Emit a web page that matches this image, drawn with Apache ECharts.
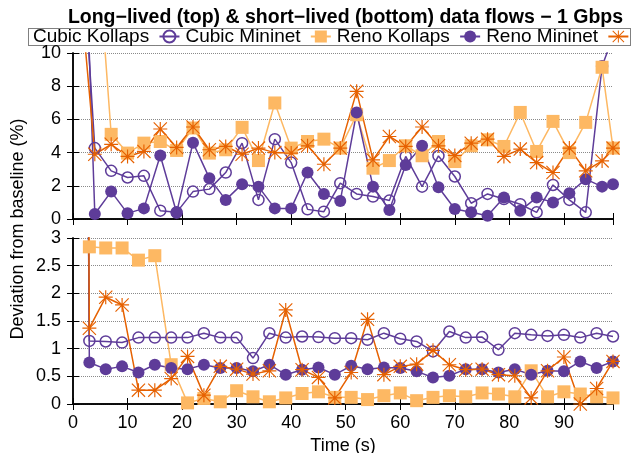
<!DOCTYPE html>
<html><head><meta charset="utf-8">
<script src="https://cdn.jsdelivr.net/npm/echarts@6/dist/echarts.min.js"></script>
<style>html,body{margin:0;padding:0;background:#fff}#c{width:631px;height:453px}</style>
</head><body><div id="c"></div>
<script>
// ---- data ----
const topTime = [1,4,7,10,13,16,19,22,25,28,31,34,37,40,43,46,49,52,55,58,61,64,67,70,73,76,79,82,85,88,91,94,97,99];
const bottomTime = [0,3,6,9,12,15,18,21,24,27,30,33,36,39,42,45,48,51,54,57,60,63,66,69,72,75,78,81,84,87,90,93,96,99];
const seriesNames = ['Cubic Kollaps','Cubic Mininet','Reno Kollaps','Reno Mininet'];

const topCubicKollaps = [20,4.27,2.9,2.5,2.6,0.5,0.4,1.65,1.8,2.8,4.57,1.15,4.81,3.4,0.58,0.44,2.16,1.51,1.35,1.11,3.77,1.95,3.8,2.56,0.95,1.51,1.2,0.89,0.4,2.05,1.15,0.4,9.2,11];
const topCubicMininet = [25,18.5,5.1,3.97,4.57,4.67,4.13,5.48,3.97,4.17,5.52,3.52,6.99,4.27,4.67,4.81,4.27,6.28,3.06,3.52,4.41,3.81,4.67,3.46,4.41,4.77,4.37,6.42,4.07,5.88,4.0,5.82,9.14,4.27];
const topRenoKollaps = [29,0.3,1.65,0.34,0.64,3.83,0.38,4.6,2.46,1.15,2.1,1.95,0.64,0.64,2.8,1.51,1.09,6.42,1.95,0.54,3.26,4.41,1.91,0.6,0.4,0.2,1.29,0.5,1.29,1.0,1.55,2.4,1.95,2.1];
const topRenoMininet = [15,3.9,4.5,3.77,4.07,5.42,4.31,5.54,4.17,4.37,3.9,4.27,4.0,3.97,4.41,3.3,4.27,7.69,3.56,4.97,4.37,5.54,4.41,3.83,4.57,4.81,3.77,4.21,3.4,2.8,4.27,2.9,3.5,4.27];

const bottomCubicKollaps = [40,1.14,1.13,1.11,1.2,1.2,1.2,1.2,1.28,1.2,1.2,0.83,1.28,1.2,1.22,1.21,1.19,1.19,1.16,1.28,1.18,1.13,0.95,1.31,1.2,1.21,0.98,1.28,1.25,1.23,1.25,1.2,1.28,1.22];
const bottomCubicMininet = [60,2.84,2.82,2.82,2.6,2.68,0.71,0.02,0.1,0.04,0.24,0.13,0.04,0.11,0.19,0.22,0.12,0.12,0.08,0.15,0.2,0.06,0.12,0.15,0.13,0.2,0.18,0.13,0.6,0.13,0.22,0.18,0.13,0.11];
const bottomRenoKollaps = [45,0.75,0.63,0.68,0.57,0.71,0.65,0.63,0.71,0.65,0.65,0.59,0.71,0.53,0.62,0.66,0.53,0.69,0.63,0.66,0.65,0.59,0.48,0.51,0.63,0.63,0.57,0.63,0.53,0.6,0.59,0.77,0.65,0.77];
const bottomRenoMininet = [50,1.37,1.93,1.79,0.25,0.25,0.46,0.86,0.16,0.68,0.63,0.54,0.6,1.7,0.62,0.48,0.11,0.57,1.53,0.53,0.68,0.72,0.97,0.71,0.62,0.63,0.53,0.51,0.11,0.6,0.85,0.0,0.28,0.77];

const xTickLabels = [0,10,20,30,40,50,60,70,80,90];
const topYTickLabels = [0,2,4,6,8,10];
const bottomYTickLabels = [0,0.5,1,1.5,2,2.5,3];

// ---- styling ----
const FONT = "'Liberation Sans', Arial, Helvetica, sans-serif";
const PURPLE = '#5e3c99', LORANGE = '#fdb863', DORANGE = '#e66101';
const STAR = 'path://M0 11H24V13H0Z M11 0H13V24H11Z M1.4 0L24 22.6L22.6 24L0 1.4Z M22.6 0L24 1.4L1.4 24L0 22.6Z';
const G = [{left:73, top:53, width:540, height:166}, {left:73, top:238, width:540, height:166}];

function pairs(xs, ys){ return xs.map((x,i)=>[x, ys[i]]); }

const styles = [
  {symbol:'circle', symbolSize:11, itemStyle:{color:'rgba(255,255,255,0)', borderColor:PURPLE, borderWidth:1.5}, lineStyle:{color:PURPLE, width:1.5}},
  {symbol:'rect', symbolSize:13, itemStyle:{color:LORANGE}, lineStyle:{color:LORANGE, width:1.5}},
  {symbol:'circle', symbolSize:12, itemStyle:{color:PURPLE}, lineStyle:{color:PURPLE, width:1.5}},
  {symbol:STAR, symbolSize:14, itemStyle:{color:DORANGE}, lineStyle:{color:DORANGE, width:1.5}}
];
const topData = [topCubicKollaps, topCubicMininet, topRenoKollaps, topRenoMininet];
const botData = [bottomCubicKollaps, bottomCubicMininet, bottomRenoKollaps, bottomRenoMininet];

const series = [];
[[topTime, topData, 0], [bottomTime, botData, 2]].forEach(([xs, data, ax]) => {
  data.forEach((ys, k) => {
    series.push(Object.assign({
      name: seriesNames[k], type:'line', xAxisIndex: ax, yAxisIndex: ax,
      data: pairs(xs, ys), clip: true, animation:false, showAllSymbol: true,
      emphasis:{disabled:true}
    }, styles[k]));
  });
});

const axLine = {show:true, lineStyle:{color:'#000', width:1.5}};
const tick = {show:true, inside:true, length:6, lineStyle:{color:'#000', width:1}};
const lbl = {color:'#000', fontSize:18, fontFamily:FONT};
const grid = {type:'dotted', color:'#8a8a8a', width:1};

function xAx(gi, pos, showLabels, name){
  return {type:'value', gridIndex:gi, position:pos, min:0, max:99, interval:10,
    axisLine:axLine, axisTick:tick, splitLine:{show:false},
    axisLabel: Object.assign({show:showLabels, margin:10, showMaxLabel:false}, lbl),
    name: name || '', nameLocation:'middle', nameGap:33,
    nameTextStyle: {color:'#000', fontSize:18, fontFamily:FONT}};
}
function yAx(gi, pos, max, interval, showLabels){
  return {type:'value', gridIndex:gi, position:pos, min:0, max:max, interval:interval,
    axisLine:axLine, axisTick:tick, splitLine:{show:showLabels, lineStyle:grid},
    axisLabel: Object.assign({show:showLabels, margin:12}, lbl)};
}

const option = {
  backgroundColor:'#fff',
  animation:false,
  textStyle:{fontFamily:FONT},
  title:{text:'Long\u2212lived (top) & short\u2212lived (bottom) data flows \u2212 1 Gbps', left:340.5, top:3, textAlign:'center',
    textStyle:{fontSize:19.5, fontWeight:'bold', color:'#000', fontFamily:FONT}},
  legend:{data:seriesNames, left:33, top:27, align:'right', itemWidth:20, itemHeight:15, itemGap:5,
    formatter: n => n + ' ',
    textStyle:{color:'#000', fontSize:19, fontFamily:FONT}, padding:0, selectedMode:false},
  grid: G.map(g => Object.assign({containLabel:false, outerBoundsMode:'none'}, g)),
  xAxis:[xAx(0,'bottom',false), xAx(0,'top',false), xAx(1,'bottom',true,'Time (s)'), xAx(1,'top',false)],
  yAxis:[yAx(0,'left',10,2,true), yAx(0,'right',10,2,false), yAx(1,'left',3,0.5,true), yAx(1,'right',3,0.5,false)],
  graphic:[
    {type:'rect', shape:{x:28.5, y:28.5, width:602, height:17}, style:{fill:'none', stroke:'#000', lineWidth:1, lineDash:[1,1]}, silent:true},
    {type:'text', x:18, y:229, rotation:Math.PI/2, style:{text:'Deviation from baseline (%)', fontSize:18, fontFamily:FONT, fill:'#000', align:'center', verticalAlign:'middle'}}
  ],
  series: series
};
const chart = echarts.init(document.getElementById('c'), null, {renderer:'canvas'});
chart.setOption(option);
</script></body></html>
